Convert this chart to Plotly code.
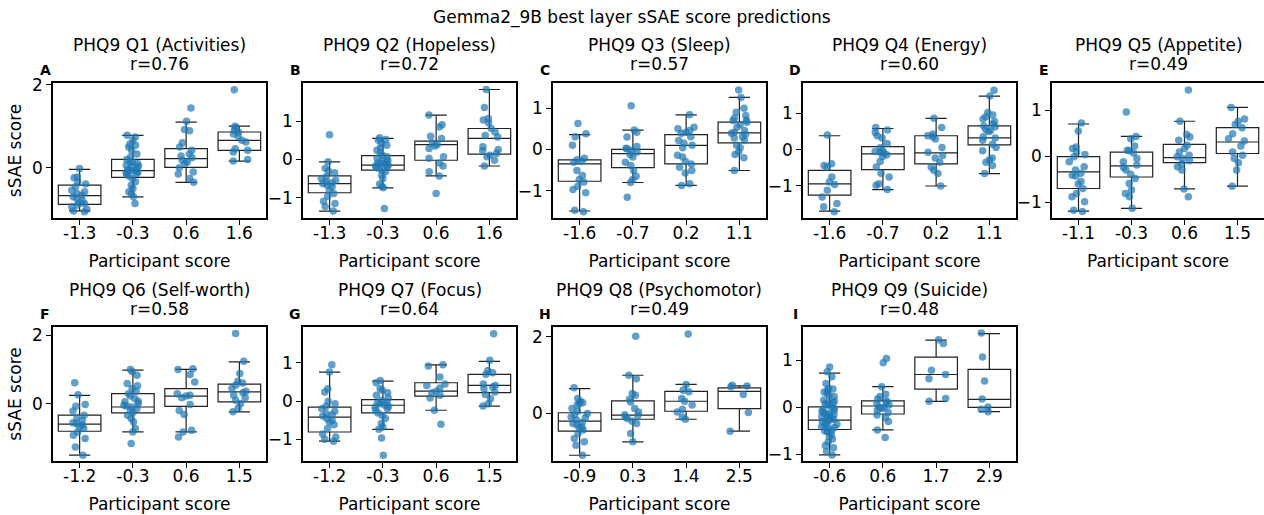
import plotly.graph_objects as go

BLUE = "#1f77b4"
FONT = "DejaVu Sans"
W, H = 1264, 515

SUPTITLE = "Gemma2_9B best layer sSAE score predictions"
TITLES = ["PHQ9 Q1 (Activities)", "PHQ9 Q2 (Hopeless)", "PHQ9 Q3 (Sleep)", "PHQ9 Q4 (Energy)",
          "PHQ9 Q5 (Appetite)", "PHQ9 Q6 (Self-worth)", "PHQ9 Q7 (Focus)", "PHQ9 Q8 (Psychomotor)",
          "PHQ9 Q9 (Suicide)"]
R_VALUES = ["0.76", "0.72", "0.57", "0.60", "0.49", "0.58", "0.64", "0.49", "0.48"]
LETTERS = ["A", "B", "C", "D", "E", "F", "G", "H", "I"]

# box stats per category: [lower whisker, q1, median, q3, upper whisker]
CATS_A = ["-1.3", "-0.3", "0.6", "1.6"]
PTS_A = [
    [-0.02, -0.22, -0.24, -0.34, -0.39, -0.46, -0.54, -0.58, -0.62, -0.66, -0.70, -0.74, -0.79, -0.84,
     -0.86, -0.90, -0.94, -1.00, -1.04, -1.06],
    [0.78, 0.74, 0.66, 0.57, 0.54, 0.50, 0.42, 0.33, 0.26, 0.20, 0.14, 0.14, 0.10, 0.06, 0.04, 0.02,
     -0.02, -0.04, -0.06, -0.08, -0.10, -0.12, -0.14, -0.15, -0.20, -0.26, -0.34, -0.42, -0.50, -0.58,
     -0.62, -0.70, -0.86],
    [1.44, 1.12, 0.92, 0.89, 0.60, 0.50, 0.42, 0.33, 0.28, 0.24, 0.18, 0.14, 0.10, 0.00, -0.10, -0.15,
     -0.26, -0.35],
    [1.88, 1.00, 0.96, 0.90, 0.86, 0.81, 0.76, 0.66, 0.62, 0.46, 0.42, 0.38, 0.20, 0.16],
]
BOX_A = [[-1.04, -0.88, -0.67, -0.42, -0.04], [-0.70, -0.23, -0.07, 0.20, 0.78],
         [-0.35, 0.01, 0.22, 0.46, 1.10], [0.16, 0.42, 0.66, 0.86, 1.00]]
TICKS_A = [0, 2]

CATS_B = ["-1.3", "-0.3", "0.6", "1.6"]
PTS_B = [
    [0.65, -0.06, -0.23, -0.30, -0.35, -0.45, -0.50, -0.54, -0.58, -0.61, -0.63, -0.67, -0.71, -0.80,
     -0.89, -0.96, -1.09, -1.15, -1.23, -1.35],
    [0.57, 0.52, 0.50, 0.42, 0.37, 0.31, 0.24, 0.17, 0.11, 0.07, 0.03, -0.02, -0.03, -0.06, -0.09,
     -0.10, -0.12, -0.15, -0.17, -0.19, -0.21, -0.23, -0.28, -0.32, -0.41, -0.50, -0.64, -0.70, -0.74,
     -1.28],
    [1.16, 0.91, 0.85, 0.61, 0.55, 0.43, 0.39, 0.35, 0.29, 0.07, 0.03, -0.09, -0.17, -0.32, -0.43, -0.89],
    [1.83, 1.36, 1.07, 1.03, 0.96, 0.81, 0.72, 0.63, 0.59, 0.33, 0.26, 0.23, 0.16, 0.11, 0.07, -0.02,
     -0.17],
]
BOX_B = [[-1.35, -0.87, -0.63, -0.43, -0.06], [-0.74, -0.28, -0.15, 0.10, 0.55],
         [-0.43, -0.02, 0.39, 0.48, 1.16], [-0.17, 0.14, 0.55, 0.81, 1.83]]
TICKS_B = [-1, 0, 1]

CATS_C = ["-1.6", "-0.7", "0.2", "1.1"]
PTS_C = [
    [0.63, 0.38, 0.31, 0.10, -0.21, -0.25, -0.28, -0.31, -0.51, -0.63, -0.73, -0.79, -0.89, -0.97,
     -1.05, -1.47, -1.51],
    [1.06, 0.47, 0.42, 0.30, 0.07, 0.03, 0.02, -0.02, -0.06, -0.12, -0.18, -0.31, -0.39, -0.51, -0.65,
     -0.73, -0.80, -1.16],
    [0.84, 0.54, 0.50, 0.46, 0.42, 0.39, 0.31, 0.22, 0.15, 0.10, 0.04, -0.14, -0.18, -0.29, -0.35,
     -0.43, -0.51, -0.57, -0.83, -0.87],
    [1.44, 1.26, 1.00, 0.90, 0.82, 0.76, 0.71, 0.70, 0.66, 0.60, 0.54, 0.46, 0.42, 0.39, 0.36, 0.31,
     0.28, 0.22, 0.10, 0.04, -0.06, -0.12, -0.20, -0.51],
]
BOX_C = [[-1.49, -0.77, -0.35, -0.25, 0.36], [-0.80, -0.44, -0.10, 0.00, 0.47],
         [-0.87, -0.35, 0.10, 0.36, 0.84], [-0.51, 0.16, 0.40, 0.66, 1.26]]
TICKS_C = [-1, 0, 1]

CATS_D = ["-1.6", "-0.7", "0.2", "1.1"]
PTS_D = [
    [0.40, -0.39, -0.44, -0.48, -0.75, -0.89, -0.96, -1.12, -1.30, -1.48, -1.57, -1.71],
    [0.61, 0.54, 0.47, 0.38, 0.32, 0.17, 0.05, -0.03, -0.05, -0.07, -0.10, -0.14, -0.19, -0.33, -0.48,
     -0.65, -0.75, -0.94, -0.98, -1.10],
    [0.86, 0.61, 0.43, 0.38, 0.35, 0.29, 0.06, -0.07, -0.16, -0.23, -0.35, -0.48, -0.57, -0.66, -1.00],
    [1.63, 1.47, 1.02, 0.95, 0.90, 0.84, 0.77, 0.70, 0.65, 0.63, 0.56, 0.52, 0.50, 0.35, 0.32, 0.26,
     0.15, 0.06, -0.03, -0.23, -0.28, -0.35, -0.44, -0.66],
]
BOX_D = [[-1.69, -1.25, -0.94, -0.57, 0.38], [-1.10, -0.55, -0.12, 0.08, 0.58],
         [-1.00, -0.39, -0.09, 0.38, 0.86], [-0.66, 0.13, 0.32, 0.65, 1.47]]
TICKS_D = [-1, 0, 1]

CATS_E = ["-1.1", "-0.3", "0.6", "1.5"]
PTS_E = [
    [0.72, 0.55, 0.20, 0.17, 0.09, 0.04, -0.01, -0.12, -0.23, -0.30, -0.37, -0.41, -0.43, -0.55, -0.60,
     -0.70, -0.81, -0.88, -0.99, -1.17, -1.20],
    [0.96, 0.43, 0.38, 0.22, 0.13, 0.12, 0.07, -0.05, -0.12, -0.19, -0.24, -0.30, -0.39, -0.48, -0.59,
     -0.73, -0.81, -0.88, -1.13],
    [1.44, 0.76, 0.47, 0.42, 0.35, 0.24, 0.17, 0.09, 0.02, -0.01, -0.05, -0.10, -0.16, -0.23, -0.30,
     -0.71, -0.88],
    [1.06, 0.81, 0.76, 0.69, 0.62, 0.49, 0.38, 0.33, 0.22, 0.09, 0.02, -0.05, -0.14, -0.30, -0.65],
]
BOX_E = [[-1.19, -0.70, -0.34, -0.01, 0.70], [-1.13, -0.45, -0.21, 0.09, 0.43],
         [-0.71, -0.14, -0.03, 0.26, 0.76], [-0.65, 0.06, 0.31, 0.62, 1.06]]
TICKS_E = [-1, 0, 1]

CATS_F = ["-1.2", "-0.3", "0.6", "1.5"]
PTS_F = [
    [0.61, 0.26, -0.03, -0.08, -0.22, -0.34, -0.42, -0.49, -0.56, -0.59, -0.63, -0.68, -0.73, -0.83,
     -0.93, -1.02, -1.27, -1.51],
    [1.00, 0.93, 0.83, 0.59, 0.52, 0.44, 0.36, 0.29, 0.22, 0.15, 0.07, 0.05, 0.00, -0.05, -0.07, -0.10,
     -0.15, -0.20, -0.26, -0.34, -0.44, -0.54, -0.73, -0.83, -1.17],
    [1.02, 1.00, 0.85, 0.63, 0.29, 0.24, 0.22, 0.17, -0.03, -0.20, -0.32, -0.78, -0.83, -0.98],
    [2.05, 1.24, 0.88, 0.65, 0.60, 0.54, 0.44, 0.36, 0.32, 0.24, 0.17, 0.10, 0.00, -0.13, -0.24],
]
BOX_F = [[-1.51, -0.81, -0.60, -0.34, 0.24], [-0.83, -0.27, -0.10, 0.29, 0.98],
         [-0.83, -0.08, 0.22, 0.44, 1.00], [-0.24, 0.05, 0.34, 0.57, 1.22]]
TICKS_F = [0, 2]

CATS_G = ["-1.2", "-0.3", "0.6", "1.5"]
PTS_G = [
    [0.95, 0.76, 0.32, 0.24, -0.01, -0.07, -0.14, -0.20, -0.27, -0.33, -0.36, -0.39, -0.46, -0.51,
     -0.55, -0.62, -0.72, -0.86, -0.94, -1.00, -1.05],
    [0.54, 0.48, 0.32, 0.28, 0.22, 0.15, 0.08, 0.02, -0.03, -0.05, -0.07, -0.11, -0.14, -0.16, -0.20,
     -0.24, -0.31, -0.38, -0.46, -0.59, -0.68, -0.74, -0.97, -1.42],
    [0.95, 0.92, 0.63, 0.45, 0.41, 0.34, 0.26, 0.22, 0.15, 0.08, -0.24, -0.61],
    [1.76, 1.07, 0.80, 0.74, 0.70, 0.45, 0.41, 0.37, 0.32, 0.24, 0.17, 0.06, -0.07, -0.13],
]
BOX_G = [[-1.05, -0.81, -0.42, -0.16, 0.76], [-0.74, -0.31, -0.11, 0.04, 0.52],
         [-0.24, 0.13, 0.26, 0.48, 0.95], [-0.13, 0.22, 0.41, 0.70, 1.04]]
TICKS_G = [-1, 0, 1]

CATS_H = ["-0.9", "0.3", "1.4", "2.5"]
PTS_H = [
    [0.67, 0.39, 0.32, 0.28, 0.26, 0.22, 0.13, 0.06, 0.00, -0.04, -0.09, -0.11, -0.17, -0.23, -0.26,
     -0.30, -0.35, -0.37, -0.43, -0.52, -0.65, -0.74, -0.83, -1.09],
    [2.02, 1.00, 0.91, 0.52, 0.48, 0.37, 0.30, 0.13, 0.04, -0.03, -0.06, -0.09, -0.13, -0.20, -0.26,
     -0.52, -0.74],
    [2.08, 0.76, 0.61, 0.57, 0.39, 0.32, 0.22, 0.11, 0.04, -0.09, -0.15],
    [0.74, 0.72, 0.70, 0.50, 0.03, -0.46],
]
BOX_H = [[-1.09, -0.46, -0.20, 0.02, 0.65], [-0.74, -0.15, -0.04, 0.33, 1.00],
         [-0.15, 0.06, 0.32, 0.58, 0.76], [-0.46, 0.13, 0.58, 0.67, 0.72]]
TICKS_H = [0, 2]

CATS_I = ["-0.6", "0.6", "1.7", "2.9"]
PTS_I = [
    [0.86, 0.76, 0.65, 0.51, 0.40, 0.39, 0.37, 0.33, 0.30, 0.26, 0.23, 0.16, 0.13, 0.12, 0.10, 0.08,
     0.05, 0.01, -0.02, -0.04, -0.06, -0.09, -0.11, -0.13, -0.15, -0.16, -0.18, -0.20, -0.22, -0.23,
     -0.25, -0.27, -0.29, -0.30, -0.34, -0.36, -0.37, -0.41, -0.43, -0.45, -0.48, -0.50, -0.52, -0.57,
     -0.62, -0.67, -0.73, -0.81, -0.86, -0.94, -1.01],
    [1.04, 0.95, 0.44, 0.28, 0.23, 0.18, 0.13, 0.11, 0.08, 0.05, 0.01, -0.01, -0.02, -0.06, -0.11,
     -0.16, -0.22, -0.30, -0.48, -0.64],
    [1.44, 1.36, 0.79, 0.70, 0.61, 0.19, 0.13],
    [1.58, 1.07, 0.56, 0.18, 0.01, -0.04, -0.09],
]
BOX_I = [[-1.01, -0.47, -0.27, 0.01, 0.73], [-0.48, -0.14, 0.03, 0.14, 0.44],
         [0.13, 0.39, 0.70, 1.07, 1.43], [-0.09, 0.00, 0.17, 0.81, 1.57]]
TICKS_I = [-1, 0, 1]

PANELS = [
    (CATS_A, PTS_A, BOX_A, TICKS_A, [-1.21, 2.04]),
    (CATS_B, PTS_B, BOX_B, TICKS_B, [-1.53, 2.0]),
    (CATS_C, PTS_C, BOX_C, TICKS_C, [-1.66, 1.61]),
    (CATS_D, PTS_D, BOX_D, TICKS_D, [-1.88, 1.83]),
    (CATS_E, PTS_E, BOX_E, TICKS_E, [-1.34, 1.59]),
    (CATS_F, PTS_F, BOX_F, TICKS_F, [-1.68, 2.24]),
    (CATS_G, PTS_G, BOX_G, TICKS_G, [-1.57, 1.94]),
    (CATS_H, PTS_H, BOX_H, TICKS_H, [-1.24, 2.26]),
    (CATS_I, PTS_I, BOX_I, TICKS_I, [-1.14, 1.71]),
]

# pixel layout of the subplot frames
COL_LEFT = [53, 303, 553, 803, 1052]
PANEL_W = 213
ROW_TOP = [83, 327]
ROW_BOT = [218, 461]

fig = go.Figure()
layout = {}
annotations = []

for i, (cats, pts, box, ticks, yr) in enumerate(PANELS):
    row, col = divmod(i, 5)
    sfx = "" if i == 0 else str(i + 1)
    xa, ya = "x" + sfx, "y" + sfx

    # boxes from the read-off statistics
    fig.add_trace(go.Box(
        x=cats,
        lowerfence=[b[0] for b in box], q1=[b[1] for b in box], median=[b[2] for b in box],
        q3=[b[3] for b in box], upperfence=[b[4] for b in box],
        boxpoints=False, fillcolor="white", line=dict(color="#222222", width=1.2),
        width=0.8, whiskerwidth=0.5, xaxis=xa, yaxis=ya, showlegend=False, hoverinfo="skip",
    ))
    # jittered points (strip plot)
    xs = [c for c, p in zip(cats, pts) for _ in p]
    ys = [v for p in pts for v in p]
    fig.add_trace(go.Box(
        x=xs, y=ys, boxpoints="all", jitter=0.45, pointpos=0,
        fillcolor="rgba(0,0,0,0)", line=dict(width=0, color="rgba(0,0,0,0)"),
        marker=dict(color=BLUE, opacity=0.7, size=7.5, line=dict(width=0)),
        width=0.8, xaxis=xa, yaxis=ya, showlegend=False,
    ))

    left = COL_LEFT[col]
    right = min(left + PANEL_W, W)
    top, bot = ROW_TOP[row], ROW_BOT[row]
    axis_common = dict(
        showline=True, mirror=True, linecolor="black", linewidth=1.5,
        ticks="outside", ticklen=5, tickwidth=1.2, tickcolor="black",
        showgrid=False, zeroline=False, automargin=False,
        tickfont=dict(size=17, color="black"),
    )
    layout["xaxis" + sfx] = dict(
        domain=[left / W, right / W], anchor=ya, type="category",
        categoryorder="array", categoryarray=cats, range=[-0.5, 3.5],
        ticklabelstandoff=-6,
        title=dict(text="Participant score", font=dict(size=17, color="black"), standoff=13),
        **axis_common,
    )
    ydict = dict(
        domain=[1 - bot / H, 1 - top / H], anchor=xa, range=yr, tickvals=ticks,
        **axis_common,
    )
    if col == 0:
        ydict["title"] = dict(text="sSAE score", font=dict(size=17, color="black"), standoff=6)
    layout["yaxis" + sfx] = ydict

    cx = (left + (left + PANEL_W)) / 2 / W
    l1 = 45 if row == 0 else 290
    annotations.append(dict(text=TITLES[i], x=cx, y=1 - l1 / H, xref="paper", yref="paper",
                            xanchor="center", yanchor="middle", showarrow=False,
                            font=dict(size=17, color="black")))
    annotations.append(dict(text="r=" + R_VALUES[i], x=cx, y=1 - (l1 + 18.5) / H, xref="paper",
                            yref="paper", xanchor="center", yanchor="middle", showarrow=False,
                            font=dict(size=17, color="black")))
    annotations.append(dict(text="<b>" + LETTERS[i] + "</b>", x=(left - 8) / W,
                            y=1 - (70 if row == 0 else 314) / H, xref="paper", yref="paper",
                            xanchor="center", yanchor="middle", showarrow=False,
                            font=dict(size=14, color="black")))

annotations.append(dict(text=SUPTITLE, x=632 / W, y=1 - 17 / H, xref="paper", yref="paper",
                        xanchor="center", yanchor="middle", showarrow=False,
                        font=dict(size=17, color="black")))

fig.update_layout(
    width=W, height=H,
    margin=dict(l=0, r=0, t=0, b=0),
    paper_bgcolor="white", plot_bgcolor="white",
    font=dict(family=FONT, color="black"),
    boxmode="overlay",
    annotations=annotations,
    **layout,
)

# drop the default page margin so the figure sits at the window's top-left corner
fig.write_html("out.html", config={"displayModeBar": False},
               post_script="document.body.style.margin='0';")
